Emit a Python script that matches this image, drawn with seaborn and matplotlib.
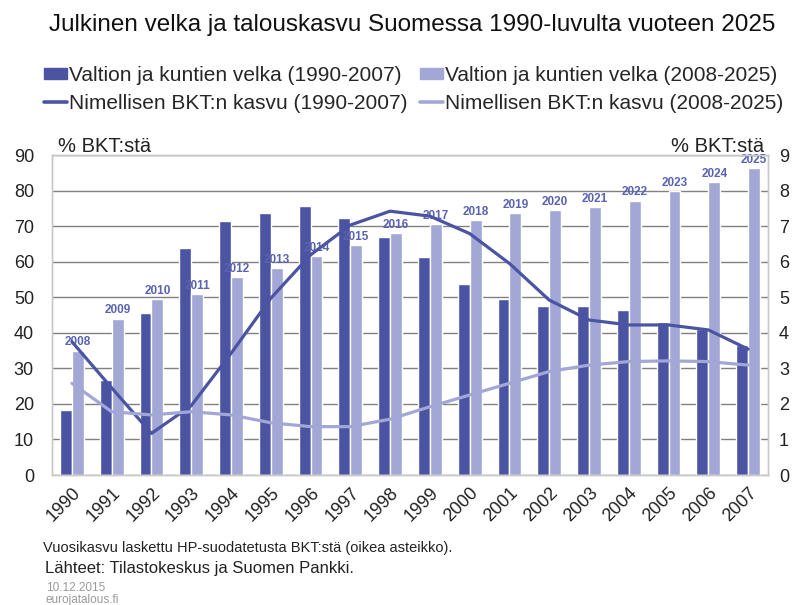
import matplotlib
matplotlib.use("Agg")
import matplotlib.pyplot as plt
import seaborn as sns
import pandas as pd
import numpy as np
from matplotlib.patches import Patch
from matplotlib.lines import Line2D

# ---- data ----
years = [str(y) for y in range(1990, 2008)]
years_late = [str(y) for y in range(2008, 2026)]
debt_early = [18.3, 26.7, 45.6, 63.8, 71.4, 73.8, 75.6, 72.4, 67.0,
              61.2, 53.8, 49.4, 47.5, 47.5, 46.3, 43.0, 41.2, 36.6]
debt_late = [35.0, 44.0, 49.4, 51.0, 55.7, 58.3, 61.5, 64.8, 68.1,
             70.5, 71.8, 73.7, 74.4, 75.4, 77.2, 79.8, 82.4, 86.3]
growth_early = [3.75, 2.45, 1.17, 1.95, 3.42, 4.97, 6.19, 7.03, 7.42,
                7.28, 6.79, 5.95, 4.92, 4.36, 4.22, 4.22, 4.08, 3.54]
growth_late = [2.58, 1.78, 1.69, 1.78, 1.69, 1.47, 1.36, 1.36, 1.57,
               1.92, 2.25, 2.58, 2.91, 3.09, 3.19, 3.21, 3.19, 3.09]

lab_bar_e = "Valtion ja kuntien velka (1990-2007)"
lab_bar_l = "Valtion ja kuntien velka (2008-2025)"
lab_line_e = "Nimellisen BKT:n kasvu (1990-2007)"
lab_line_l = "Nimellisen BKT:n kasvu (2008-2025)"

title = "Julkinen velka ja talouskasvu Suomessa 1990-luvulta vuoteen 2025"
note = "Vuosikasvu laskettu HP-suodatetusta BKT:stä (oikea asteikko)."
source = "Lähteet: Tilastokeskus ja Suomen Pankki."
date = "10.12.2015"
site = "eurojatalous.fi"
unit = "% BKT:stä"

DARK = "#4B54A3"
LIGHT = "#A2A7D5"
LABC = "#5A63B0"

sns.set_theme(style="white")
plt.rcParams["font.family"] = ["Liberation Sans", "DejaVu Sans"]

bars = pd.DataFrame({
    "year": years * 2,
    "value": debt_early + debt_late,
    "series": [lab_bar_e] * len(years) + [lab_bar_l] * len(years),
})
pos = np.arange(len(years))
lines_df = pd.DataFrame({
    "pos": np.concatenate([pos, pos]),
    "value": growth_early + growth_late,
    "series": [lab_line_e] * len(years) + [lab_line_l] * len(years),
})

fig = plt.figure(figsize=(7.97, 6.05), dpi=100)
ax = fig.add_axes([52 / 797, 1 - 475 / 605, (768 - 52) / 797, (475 - 155) / 605])

sns.barplot(data=bars, x="year", y="value", hue="series",
            palette=[DARK, LIGHT], width=0.6, dodge=True, ax=ax,
            saturation=1, legend=False, zorder=2)
ax.set_ylim(0, 90)
ax.set_xlim(-0.5, len(years) - 0.5)
ax.set_yticks(range(0, 91, 10))
ax.yaxis.grid(True, color="#808080", linewidth=1.0, zorder=0)
ax.set_axisbelow(True)
ax.set_xlabel("")
ax.set_ylabel("")
for s in ax.spines.values():
    s.set_color("#C8C8C8")
    s.set_linewidth(1.0)
ax.tick_params(axis="y", labelsize=13, length=0, pad=13, colors="#222222")
ax.tick_params(axis="x", labelsize=13, length=0, pad=7, colors="#222222")
plt.setp(ax.get_xticklabels(), rotation=45, ha="right", rotation_mode="anchor")

# year labels above light bars
light_bars = ax.containers[1]
for rect, lab in zip(light_bars, years_late):
    ax.annotate(lab, (rect.get_x() + rect.get_width() / 2, rect.get_height()),
                xytext=(0, 1.5), textcoords="offset points", ha="center",
                va="bottom", fontsize=8.5, fontweight="bold", color=LABC,
                zorder=5)

ax2 = ax.twinx()
sns.lineplot(data=lines_df, x="pos", y="value", hue="series",
             palette=[DARK, LIGHT], linewidth=2.3, ax=ax2, legend=False,
             zorder=3)
ax2.set_ylim(0, 9)
ax2.set_yticks(range(0, 10))
ax2.set_xlim(-0.5, len(years) - 0.5)
ax2.set_ylabel("")
ax2.set_xlabel("")
for s in ax2.spines.values():
    s.set_color("#C8C8C8")
    s.set_linewidth(1.0)
ax2.tick_params(axis="y", labelsize=13, length=0, pad=8, colors="#222222")
ax2.grid(False)

# unit labels
fig.text(58 / 797, 1 - 146 / 605, unit, fontsize=14.5, ha="left", va="center",
         color="#222222")
fig.text(764 / 797, 1 - 146 / 605, unit, fontsize=14.5, ha="right",
         va="center", color="#222222")

# title
fig.text(412 / 797, 1 - 25 / 605, title, fontsize=17.5, ha="center",
         va="center", color="#111111")

handles = [
    Patch(facecolor=DARK, edgecolor=DARK, label=lab_bar_e),
    Line2D([0], [0], color=DARK, lw=2.6, label=lab_line_e),
    Patch(facecolor=LIGHT, edgecolor=LIGHT, label=lab_bar_l),
    Line2D([0], [0], color=LIGHT, lw=2.6, label=lab_line_l),
]
fig.legend(handles=handles, ncol=2, loc="upper left",
           bbox_to_anchor=(44 / 797, 1 - 66 / 605), frameon=False,
           fontsize=15, handlelength=1.1, handleheight=0.45,
           handletextpad=0.1, columnspacing=0.6, labelspacing=0.42,
           borderaxespad=0, borderpad=0)

fig.text(43 / 797, 1 - 548 / 605, note, fontsize=10.5, ha="left",
         va="center", color="#222222")
fig.text(45 / 797, 1 - 568 / 605, source, fontsize=12, ha="left",
         va="center", color="#222222")
fig.text(46 / 797, 1 - 588 / 605, date, fontsize=8.5, ha="left",
         va="center", color="#999999")
fig.text(46 / 797, 1 - 600 / 605, site, fontsize=8.5, ha="left",
         va="center", color="#999999")

fig.savefig("out.png", dpi=100)
